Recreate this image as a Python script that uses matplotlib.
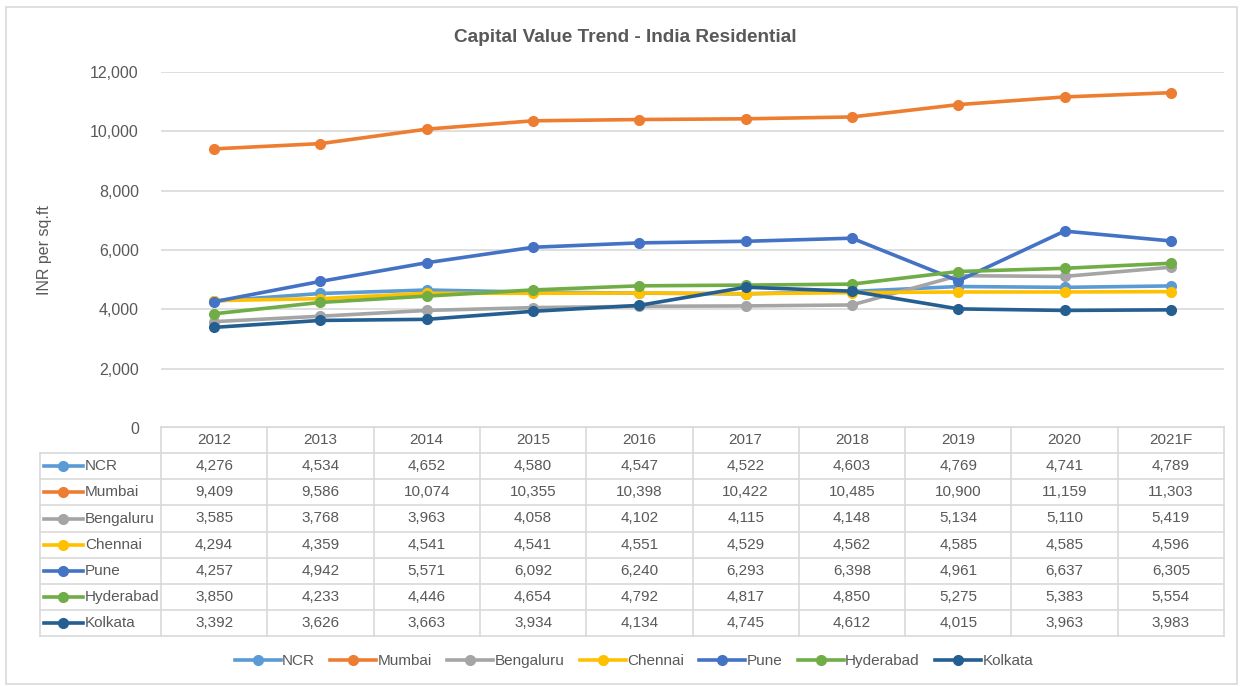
import matplotlib
matplotlib.use("Agg")
import matplotlib.pyplot as plt
from matplotlib.lines import Line2D
from matplotlib.patches import Rectangle

years = ["2012", "2013", "2014", "2015", "2016", "2017", "2018", "2019", "2020", "2021F"]
cities = ["NCR", "Mumbai", "Bengaluru", "Chennai", "Pune", "Hyderabad", "Kolkata"]
ncr = [4276, 4534, 4652, 4580, 4547, 4522, 4603, 4769, 4741, 4789]
mumbai = [9409, 9586, 10074, 10355, 10398, 10422, 10485, 10900, 11159, 11303]
bengaluru = [3585, 3768, 3963, 4058, 4102, 4115, 4148, 5134, 5110, 5419]
chennai = [4294, 4359, 4541, 4541, 4551, 4529, 4562, 4585, 4585, 4596]
pune = [4257, 4942, 5571, 6092, 6240, 6293, 6398, 4961, 6637, 6305]
hyderabad = [3850, 4233, 4446, 4654, 4792, 4817, 4850, 5275, 5383, 5554]
kolkata = [3392, 3626, 3663, 3934, 4134, 4745, 4612, 4015, 3963, 3983]
series = [ncr, mumbai, bengaluru, chennai, pune, hyderabad, kolkata]
colors = ["#5B9BD5", "#ED7D31", "#A5A5A5", "#FFC000", "#4472C4", "#70AD47", "#255E91"]
yticks = [0, 2000, 4000, 6000, 8000, 10000, 12000]

plt.rcParams["font.family"] = ["Liberation Sans", "DejaVu Sans"]
TXT = "#595959"
GRID = "#D9D9D9"
FS = 11

W, H = 1241, 686
fig = plt.figure(figsize=(W / 100, H / 100), dpi=100)

def fx(x):
    return x / W

def fy(y):
    return 1 - y / H

# outer border
fig.patches.append(Rectangle((fx(6), fy(684)), fx(1237) - fx(6), fy(7) - fy(684),
                             transform=fig.transFigure, fill=False, ec=GRID, lw=1.2))

L, R, T, B = 161, 1224, 72, 428
ax = fig.add_axes([fx(L), fy(B), fx(R) - fx(L), fy(T) - fy(B)])
x = list(range(len(years)))
for s, c in zip(series, colors):
    ax.plot(x, s, color=c, lw=2.6, marker="o", ms=7, zorder=3)
ax.set_xlim(-0.5, len(years) - 0.5)
ax.set_ylim(0, 12000)
ax.set_yticks(yticks)
ax.set_yticklabels([f"{v:,}" for v in yticks], color=TXT, fontsize=FS + 0.5)
ax.tick_params(axis="y", length=0, pad=16)
ax.set_xticks([])
ax.grid(axis="y", color=GRID, lw=1.2)
ax.set_axisbelow(True)
for sp in ax.spines.values():
    sp.set_visible(False)

fig.text(fx(625), fy(37), "Capital Value Trend - India Residential", ha="center", va="center",
         fontsize=13.7, fontweight="bold", color=TXT)
fig.text(fx(45), fy(250), "INR per sq.ft", rotation=90, ha="center", va="center",
         fontsize=FS + 0.5, color=TXT)

# data table
colw = (R - L) / len(years)
row_top = 427
hdr_h = 26
rh = 26.2
nrows = len(cities)
bottom = row_top + hdr_h + rh * nrows
lkw = dict(transform=fig.transFigure, color=GRID, lw=1.2)
fig.add_artist(Line2D([fx(L), fx(R)], [fy(row_top), fy(row_top)], **lkw))
for i in range(nrows + 1):
    yy = row_top + hdr_h + rh * i
    fig.add_artist(Line2D([fx(40), fx(R)], [fy(yy), fy(yy)], **lkw))
fig.add_artist(Line2D([fx(40), fx(40)], [fy(row_top + hdr_h), fy(bottom)], **lkw))
for j in range(len(years) + 1):
    xx = L + colw * j
    fig.add_artist(Line2D([fx(xx), fx(xx)], [fy(row_top), fy(bottom)], **lkw))
for j, yr in enumerate(years):
    fig.text(fx(L + colw * (j + 0.5)), fy(row_top + hdr_h / 2), yr, ha="center", va="center",
             fontsize=FS, color=TXT)
for i, (city, s, c) in enumerate(zip(cities, series, colors)):
    yc = row_top + hdr_h + rh * (i + 0.5)
    fig.add_artist(Line2D([fx(44), fx(83)], [fy(yc), fy(yc)], transform=fig.transFigure,
                          color=c, lw=2.6))
    fig.add_artist(Line2D([fx(63)], [fy(yc)], transform=fig.transFigure,
                          color=c, marker="o", ms=7, lw=0))
    fig.text(fx(85), fy(yc), city, ha="left", va="center", fontsize=FS, color=TXT)
    for j, v in enumerate(s):
        fig.text(fx(L + colw * (j + 0.5)), fy(yc), f"{v:,}", ha="center", va="center",
                 fontsize=FS, color=TXT)

# legend
handles = [Line2D([], [], color=c, lw=2.6, marker="o", ms=7) for c in colors]
fig.legend(handles, cities, loc="center", bbox_to_anchor=(fx(634), fy(661)), ncol=7,
           frameon=False, fontsize=FS, handlelength=3.0, handletextpad=0.1, numpoints=1,
           columnspacing=1.0, labelcolor=TXT)

fig.savefig("out.png", dpi=100)
